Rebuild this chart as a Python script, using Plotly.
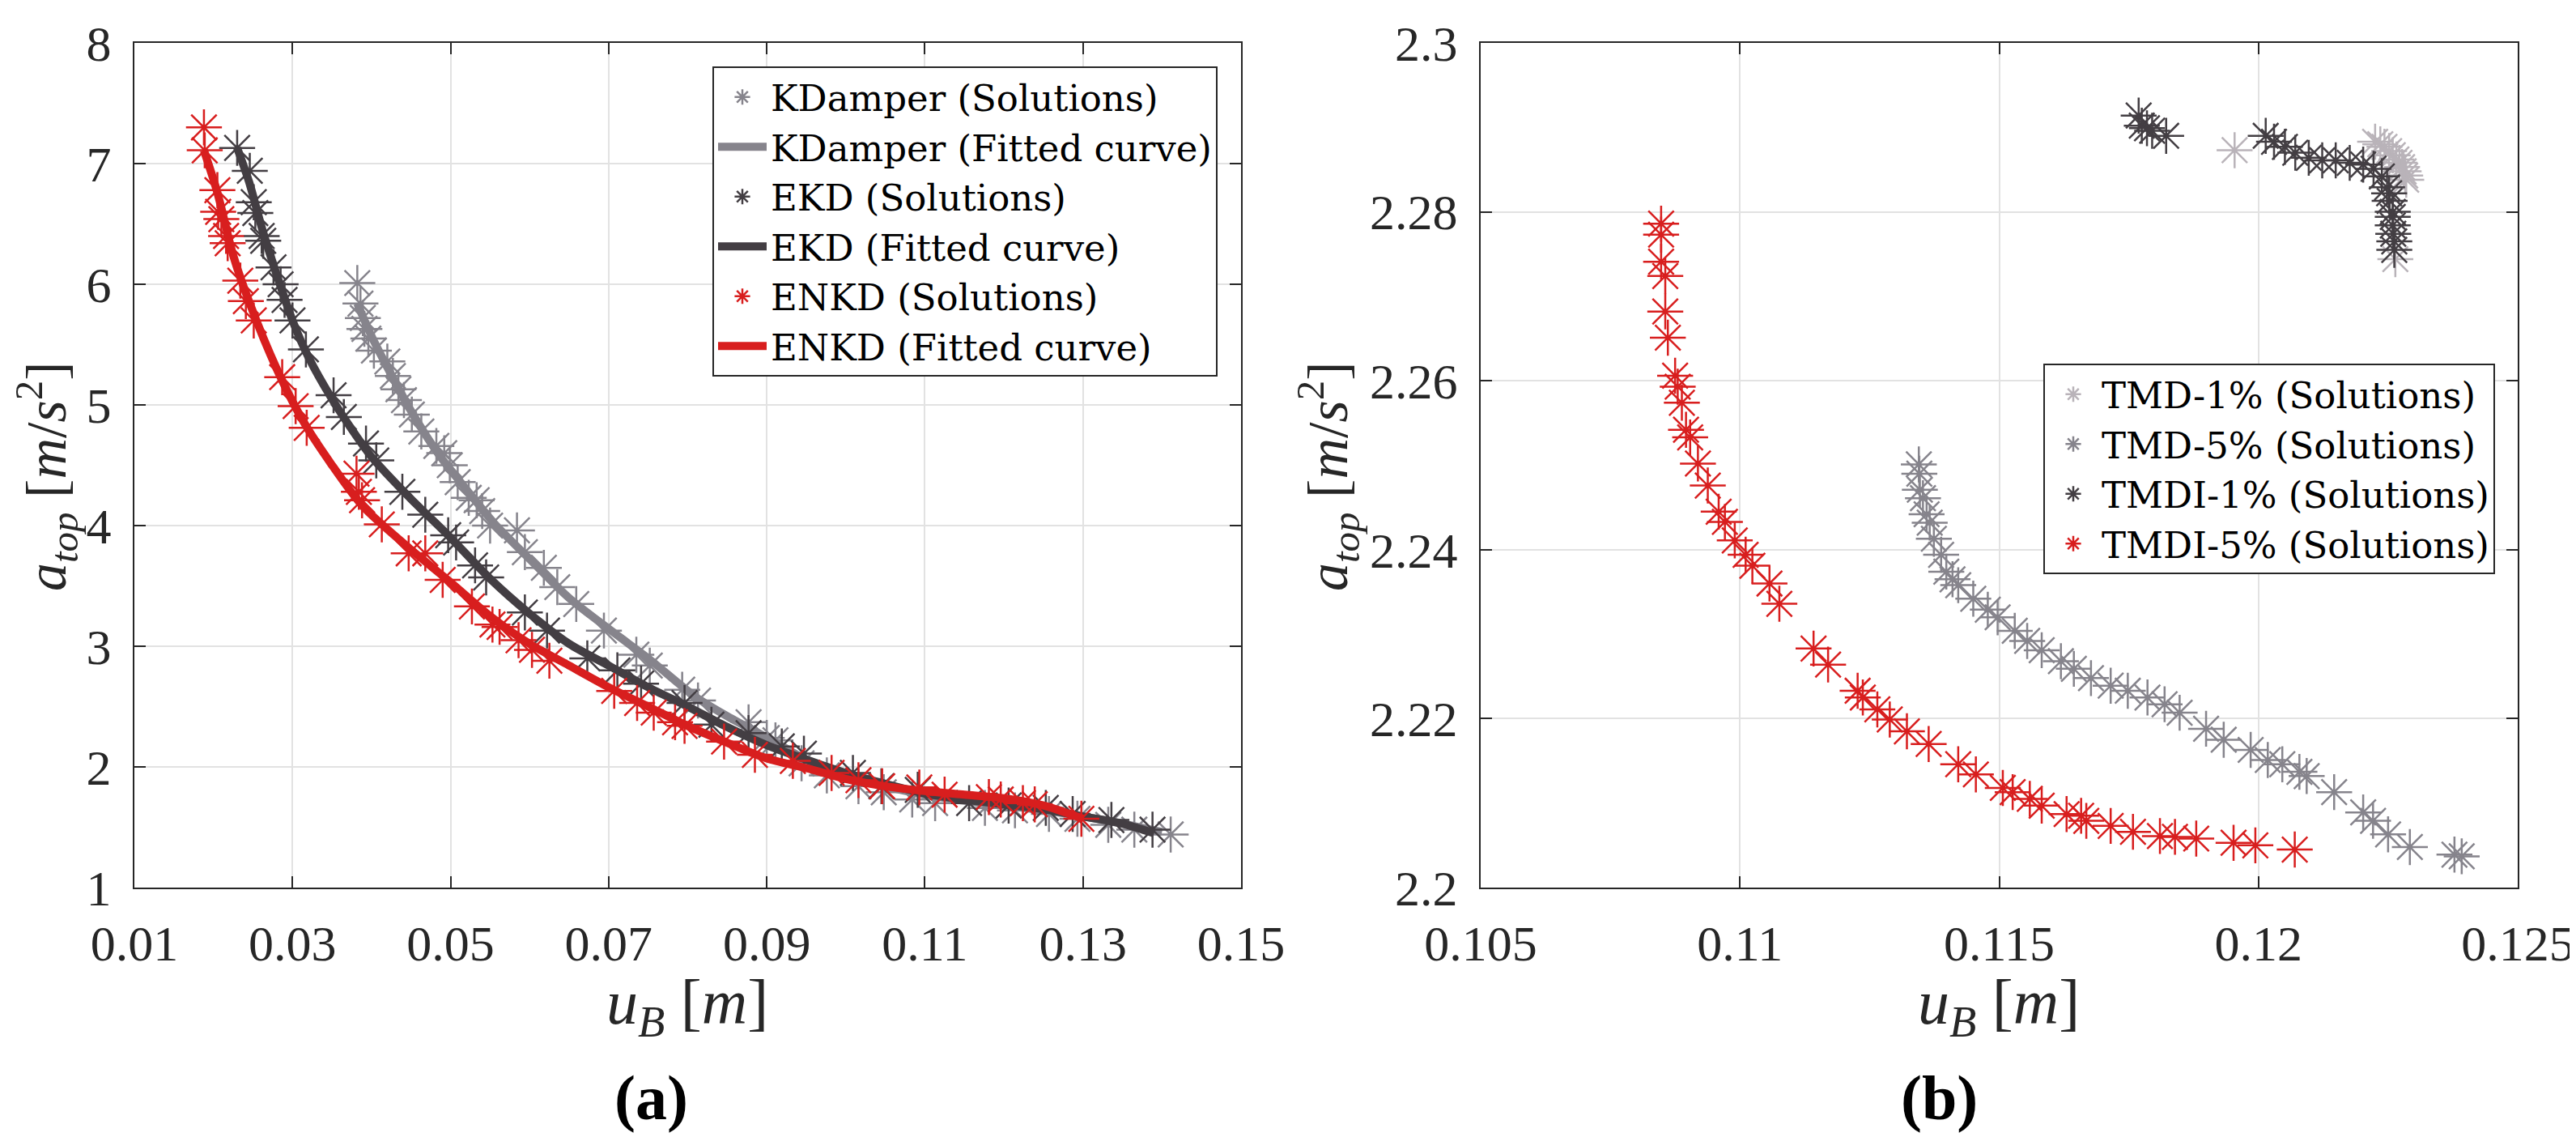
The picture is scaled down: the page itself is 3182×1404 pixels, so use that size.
import plotly.graph_objects as go

# ---- (a) KDamper / EKD / ENKD ----
kd_x = [0.0382, 0.0386, 0.0389, 0.0391, 0.0396, 0.0403, 0.0420, 0.0427, 0.0434, 0.0441,
        0.0451, 0.0463, 0.0482, 0.0492, 0.0499, 0.0509, 0.0523, 0.0533, 0.0540, 0.0550,
        0.0584, 0.0594, 0.0618, 0.0635, 0.0659, 0.0694, 0.0735, 0.0752, 0.0793, 0.0813,
        0.0877, 0.0900, 0.0911, 0.0944, 0.0976, 0.1016, 0.1048, 0.1084, 0.1113, 0.1176,
        0.1214, 0.1257, 0.1293, 0.1332, 0.1365, 0.1411]
kd_y = [6.01, 5.84, 5.72, 5.63, 5.55, 5.45, 5.36, 5.24, 5.13, 5.04,
        4.92, 4.78, 4.66, 4.60, 4.50, 4.36, 4.23, 4.21, 4.12, 4.00,
        3.96, 3.78, 3.65, 3.49, 3.35, 3.13, 2.93, 2.84, 2.64, 2.55,
        2.37, 2.24, 2.22, 2.03, 1.93, 1.84, 1.79, 1.73, 1.70, 1.66,
        1.64, 1.61, 1.57, 1.52, 1.48, 1.44]
kd_fit_x = [0.0382, 0.0400, 0.0417, 0.0450, 0.0485, 0.0520, 0.0555, 0.0605, 0.0650, 0.0707,
            0.0750, 0.0810, 0.0850, 0.0912, 0.0950, 0.1000, 0.1050, 0.1100, 0.1150, 0.1200,
            0.1250, 0.1300, 0.1350, 0.1400]
kd_fit_y = [5.84, 5.57, 5.35, 4.95, 4.59, 4.30, 4.02, 3.69, 3.40, 3.11,
            2.90, 2.58, 2.42, 2.20, 2.06, 1.94, 1.84, 1.77, 1.72, 1.68,
            1.64, 1.59, 1.53, 1.46]

ekd_x = [0.0230, 0.0246, 0.0251, 0.0253, 0.0261, 0.0263, 0.0276, 0.0285, 0.0290, 0.0300,
         0.0317, 0.0352, 0.0365, 0.0393, 0.0406, 0.0439, 0.0468, 0.0497, 0.0507, 0.0531,
         0.0545, 0.0594, 0.0622, 0.0673, 0.0711, 0.0741, 0.0796, 0.0830, 0.0877, 0.0919,
         0.0947, 0.1009, 0.1045, 0.1091, 0.1156, 0.1206, 0.1253, 0.1287, 0.1336, 0.1388]
ekd_y = [7.13, 6.94, 6.68, 6.59, 6.40, 6.36, 6.14, 6.00, 5.87, 5.70,
         5.46, 5.08, 4.90, 4.68, 4.54, 4.28, 4.09, 3.92, 3.86, 3.67,
         3.57, 3.28, 3.13, 2.90, 2.80, 2.69, 2.53, 2.35, 2.28, 2.17,
         2.11, 1.95, 1.84, 1.81, 1.70, 1.68, 1.66, 1.61, 1.56, 1.48]
ekd_fit_x = [0.0230, 0.0245, 0.0262, 0.0280, 0.0300, 0.0320, 0.0350, 0.0380, 0.0400, 0.0450,
             0.0500, 0.0550, 0.0600, 0.0650, 0.0700, 0.0750, 0.0800, 0.0850, 0.0900, 0.0950,
             0.1000, 0.1050, 0.1100, 0.1150, 0.1200, 0.1250, 0.1300, 0.1350, 0.1390]
ekd_fit_y = [7.13, 6.85, 6.45, 6.08, 5.70, 5.40, 5.05, 4.75, 4.57, 4.22,
             3.90, 3.56, 3.27, 3.02, 2.84, 2.66, 2.50, 2.33, 2.18, 2.06,
             1.95, 1.86, 1.78, 1.73, 1.69, 1.65, 1.59, 1.53, 1.45]

enkd_x = [0.0188, 0.0189, 0.0205, 0.0206, 0.0210, 0.0216, 0.0218, 0.0234, 0.0241, 0.0251,
          0.0287, 0.0304, 0.0318, 0.0381, 0.0384, 0.0388, 0.0413, 0.0447, 0.0468, 0.0490,
          0.0527, 0.0553, 0.0562, 0.0586, 0.0603, 0.0625, 0.0707, 0.0736, 0.0757, 0.0784,
          0.0796, 0.0846, 0.0885, 0.0933, 0.0982, 0.1016, 0.1046, 0.1093, 0.1125, 0.1181,
          0.1196, 0.1224, 0.1239, 0.1298]
enkd_y = [7.30, 7.11, 6.78, 6.60, 6.54, 6.40, 6.34, 6.03, 5.86, 5.70,
          5.23, 4.99, 4.81, 4.43, 4.28, 4.21, 4.01, 3.77, 3.77, 3.55,
          3.33, 3.18, 3.16, 3.05, 2.97, 2.88, 2.63, 2.53, 2.45, 2.37,
          2.34, 2.21, 2.10, 2.05, 1.95, 1.89, 1.84, 1.83, 1.77, 1.75,
          1.73, 1.70, 1.69, 1.57]
enkd_fit_x = [0.0188, 0.0205, 0.0225, 0.0246, 0.0280, 0.0314, 0.0348, 0.0389, 0.0450, 0.0500,
              0.0550, 0.0600, 0.0650, 0.0700, 0.0750, 0.0800, 0.0850, 0.0900, 0.0950, 0.1000,
              0.1050, 0.1100, 0.1150, 0.1200, 0.1250, 0.1300]
enkd_fit_y = [7.11, 6.76, 6.24, 5.84, 5.30, 4.86, 4.52, 4.16, 3.80, 3.53,
              3.25, 3.02, 2.84, 2.66, 2.50, 2.34, 2.20, 2.07, 1.99, 1.90,
              1.84, 1.80, 1.77, 1.74, 1.68, 1.57]

# ---- (b) TMD / TMDI ----
tmd1_x = [0.11954, 0.12225, 0.12235, 0.12243, 0.12252, 0.12259, 0.12266, 0.12272, 0.12277,
          0.12280, 0.12283, 0.12285, 0.12264]
tmd1_y = [2.2873, 2.2883, 2.2880, 2.2877, 2.2872, 2.2867, 2.2862, 2.2858, 2.2853,
          2.2848, 2.2843, 2.2838, 2.2744]

tmd5_x = [0.11345, 0.11346, 0.11347, 0.11353, 0.11360, 0.11366, 0.11374, 0.11388, 0.11398, 0.11410,
          0.11421, 0.11450, 0.11478, 0.11497, 0.11530, 0.11554, 0.11582, 0.11619, 0.11644, 0.11677,
          0.11715, 0.11748, 0.11786, 0.11819, 0.11848, 0.11899, 0.11933, 0.11985, 0.12018, 0.12046,
          0.12079, 0.12093, 0.12146, 0.12202, 0.12221, 0.12250, 0.12292, 0.12378, 0.12392]
tmd5_y = [2.2501, 2.2490, 2.2471, 2.2461, 2.2442, 2.2432, 2.2413, 2.2394, 2.2374, 2.2365,
          2.2358, 2.2342, 2.2329, 2.2320, 2.2304, 2.2292, 2.2281, 2.2268, 2.2259, 2.2248,
          2.2239, 2.2233, 2.2225, 2.2217, 2.2207, 2.2188, 2.2175, 2.2163, 2.2151, 2.2146,
          2.2137, 2.2132, 2.2113, 2.2089, 2.2079, 2.2063, 2.2048, 2.2039, 2.2037]

tmdi1_x = [0.11769, 0.11775, 0.11785, 0.11795, 0.11822, 0.12014, 0.12030, 0.12051, 0.12071, 0.12097,
           0.12123, 0.12149, 0.12176, 0.12202, 0.12222, 0.12238, 0.12248, 0.12252, 0.12253, 0.12259,
           0.12259, 0.12259, 0.12260, 0.12262, 0.12262]
tmdi1_y = [2.2914, 2.2902, 2.2899, 2.2896, 2.2890, 2.2890, 2.2883, 2.2877, 2.2870, 2.2864,
           2.2861, 2.2861, 2.2858, 2.2856, 2.2851, 2.2842, 2.2829, 2.2822, 2.2813, 2.2800,
           2.2794, 2.2784, 2.2774, 2.2765, 2.2755]

tmdi5_x = [0.10848, 0.10848, 0.10848, 0.10856, 0.10856, 0.10861, 0.10875, 0.10880, 0.10888, 0.10896,
           0.10904, 0.10919, 0.10938, 0.10959, 0.10971, 0.10990, 0.11011, 0.11024, 0.11057, 0.11076,
           0.11142, 0.11170, 0.11227, 0.11237, 0.11265, 0.11289, 0.11322, 0.11364, 0.11421, 0.11455,
           0.11507, 0.11526, 0.11559, 0.11582, 0.11630, 0.11658, 0.11668, 0.11715, 0.11758, 0.11810,
           0.11839, 0.11880, 0.11952, 0.11994, 0.12070]
tmdi5_y = [2.2786, 2.2773, 2.2741, 2.2724, 2.2682, 2.2651, 2.2606, 2.2593, 2.2574, 2.2542,
           2.2533, 2.2502, 2.2476, 2.2445, 2.2433, 2.2411, 2.2394, 2.2381, 2.2360, 2.2336,
           2.2283, 2.2264, 2.2233, 2.2225, 2.2211, 2.2199, 2.2185, 2.2170, 2.2146, 2.2134,
           2.2118, 2.2113, 2.2105, 2.2097, 2.2087, 2.2085, 2.2079, 2.2073, 2.2066, 2.2061,
           2.2060, 2.2058, 2.2053, 2.2050, 2.2045]

xa_ticks = [0.01, 0.03, 0.05, 0.07, 0.09, 0.11, 0.13, 0.15]
xa_labels = ["0.01", "0.03", "0.05", "0.07", "0.09", "0.11", "0.13", "0.15"]
ya_ticks = [1, 2, 3, 4, 5, 6, 7, 8]
xb_ticks = [0.105, 0.11, 0.115, 0.12, 0.125]
xb_labels = ["0.105", "0.11", "0.115", "0.12", "0.125"]
yb_ticks = [2.2, 2.22, 2.24, 2.26, 2.28, 2.3]
yb_labels = ["2.2", "2.22", "2.24", "2.26", "2.28", "2.3"]

RED = "#d81e1e"
DARK = "#433e43"
GRAY = "#86848c"
LIGHT = "#b9b3b9"
FONT = "Liberation Serif"
LEG_FONT = "DejaVu Serif"
W, H = 3182, 1404

fig = go.Figure()


def sols(x, y, name, color, xa, ya, legend):
    fig.add_trace(go.Scatter(
        x=x, y=y, mode="markers", name=name, xaxis=xa, yaxis=ya, legend=legend,
        marker=dict(symbol="asterisk-open", size=37, color=color,
                    line=dict(color=color, width=2.5))))


def fit(x, y, name, color):
    fig.add_trace(go.Scatter(
        x=x, y=y, mode="lines", name=name, xaxis="x", yaxis="y", legend="legend",
        line=dict(color=color, width=10, shape="spline", smoothing=0.8)))


sols(kd_x, kd_y, "KDamper (Solutions)", GRAY, "x", "y", "legend")
fit(kd_fit_x, kd_fit_y, "KDamper (Fitted curve)", GRAY)
sols(ekd_x, ekd_y, "EKD (Solutions)", DARK, "x", "y", "legend")
fit(ekd_fit_x, ekd_fit_y, "EKD (Fitted curve)", DARK)
sols(enkd_x, enkd_y, "ENKD (Solutions)", RED, "x", "y", "legend")
fit(enkd_fit_x, enkd_fit_y, "ENKD (Fitted curve)", RED)

sols(tmd1_x, tmd1_y, "TMD-1% (Solutions)", LIGHT, "x2", "y2", "legend2")
sols(tmd5_x, tmd5_y, "TMD-5% (Solutions)", GRAY, "x2", "y2", "legend2")
sols(tmdi1_x, tmdi1_y, "TMDI-1% (Solutions)", DARK, "x2", "y2", "legend2")
sols(tmdi5_x, tmdi5_y, "TMDI-5% (Solutions)", RED, "x2", "y2", "legend2")

axis_style = dict(
    showline=True, linecolor="#262626", linewidth=2, mirror="ticks",
    ticks="inside", ticklen=14, tickwidth=2, tickcolor="#262626",
    showgrid=True, gridcolor="#e2e2e2", gridwidth=1.5, zeroline=False, automargin=False,
    tickfont=dict(family=FONT, size=62, color="#262626"), ticklabelstandoff=14,
)
y_dom = [1 - 1088 / H, 1 - 45 / H]

legend_style = dict(
    xanchor="right", yanchor="top", bgcolor="white", bordercolor="#262626", borderwidth=2,
    font=dict(family=LEG_FONT, size=45, color="black"), itemwidth=60, tracegroupgap=0,
)

fig.update_layout(
    width=W, height=H, margin=dict(l=0, r=0, t=0, b=0, autoexpand=False),
    paper_bgcolor="white", plot_bgcolor="white", showlegend=True,
    xaxis=dict(domain=[158 / W, 1525 / W], range=[0.01, 0.15], tickvals=xa_ticks,
               ticktext=xa_labels, anchor="y", **axis_style),
    yaxis=dict(domain=y_dom, range=[1, 8], tickvals=ya_ticks, anchor="x", **axis_style),
    xaxis2=dict(domain=[1821 / W, 3102 / W], range=[0.105, 0.125], tickvals=xb_ticks,
                ticktext=xb_labels, anchor="y2", **axis_style),
    yaxis2=dict(domain=y_dom, range=[2.2, 2.3], tickvals=yb_ticks, ticktext=yb_labels,
                anchor="x2", **axis_style),
    legend=dict(x=1496 / W, y=1 - 74 / H, **legend_style),
    legend2=dict(x=3074 / W, y=1 - 441 / H, **legend_style),
)

x_title = "<i>u</i><sub><i>B</i></sub> [<i>m</i>]"
y_title = "<i>a</i><sub><i>top</i></sub> [<i>m</i>/<i>s</i><sup>2</sup>]"
labels = [
    (841, 1235, x_title, 0, 78, False),
    (2461, 1235, x_title, 0, 78, False),
    (50, 580, y_title, -90, 70, False),
    (1633, 580, y_title, -90, 70, False),
    (796, 1347, "(a)", 0, 78, True),
    (2387, 1347, "(b)", 0, 78, True),
]
for px, py, txt, ang, sz, bold in labels:
    fig.add_annotation(
        x=px / W, y=1 - py / H, xref="paper", yref="paper", showarrow=False,
        text=f"<b>{txt}</b>" if bold else txt, textangle=ang,
        xanchor="center", yanchor="middle",
        font=dict(family=FONT, size=sz, color="black" if bold else "#262626"))

fig.write_html("out.html")
